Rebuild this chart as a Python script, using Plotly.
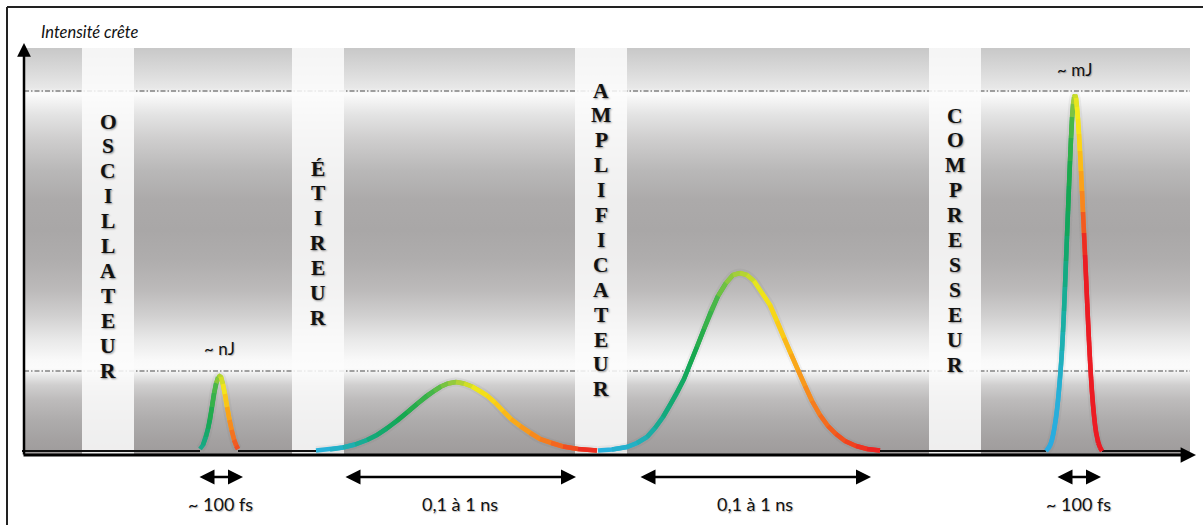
import plotly.graph_objects as go
from plotly.colors import sample_colorscale
import math

# ---------------- data ----------------
stage_names = ["OSCILLATEUR", "ÉTIREUR", "AMPLIFICATEUR", "COMPRESSEUR"]
stage_left = [82, 292, 575, 929]
stage_right = [134, 344, 627, 981]
stage_first_letter_py = [123, 170, 92, 117]

# pulses: x position (px along the time axis) and peak-intensity height (px above baseline)
osc_x = [200, 203, 206, 208, 210, 212, 214, 216, 218, 219.5, 221, 223, 225, 227, 229.5, 231.5, 234, 236, 238]
osc_y = [2, 6, 14, 22, 31, 44, 58, 68, 74, 75, 74, 67, 57, 44, 31, 21, 11, 5, 2]

str_x = [316, 330, 343, 355, 367, 377, 387, 397, 407, 417, 427, 434, 441, 448, 456,
         464, 472, 480, 487, 495, 503, 511, 520, 530, 540, 551, 563, 578, 597]
str_y = [0.5, 1.5, 3.5, 6.5, 11, 16, 22.5, 30, 38.5, 47, 55.5, 60, 64.5, 67.5, 69,
         67.5, 64.5, 60, 55.5, 48.5, 40, 32, 25, 18, 12, 8, 4.5, 2, 0.5]

amp_x = [598, 612, 627, 637, 647, 655, 663, 670, 677, 684, 690, 697, 704, 711, 718, 726, 733, 740,
         747, 754, 762, 770, 777, 784, 791, 798, 805, 812, 820, 828, 836, 845, 856, 867, 880]
amp_y = [0.5, 1.5, 4, 8, 14, 23, 34, 46, 58, 72, 87, 104, 122, 140, 155, 168, 176, 178,
         176, 170, 158, 146, 130, 113, 97, 81, 65, 50, 36, 25, 17, 10, 5, 2, 0.5]

cmp_x = [1046, 1048, 1050, 1051.5, 1053, 1054.5, 1056, 1057, 1058, 1059, 1060, 1061, 1062, 1063,
         1064, 1065, 1066, 1067, 1068, 1069, 1070, 1071, 1072, 1073, 1074, 1075, 1076, 1077,
         1078, 1079, 1080, 1081, 1082, 1083, 1084, 1085, 1086, 1087, 1088, 1089, 1090, 1091,
         1092, 1093, 1094, 1095, 1096, 1098, 1100, 1102]
cmp_y = [0, 2, 5, 9, 15, 23, 33, 41, 50, 61, 73, 86, 100, 119,
         140, 164, 190, 215, 240, 265, 290, 313, 334, 347, 354, 356, 353, 344,
         332, 317, 300, 280, 260, 239, 218, 196, 175, 152, 130, 110, 90, 73,
         58, 46, 35, 26, 18, 8, 3, 0]

energy_labels = ["~ nJ", "~ mJ"]
energy_x = [219, 1074]
energy_py = [348, 69]

duration_labels = ["~ 100 fs", "0,1 à 1 ns", "0,1 à 1 ns", "~ 100 fs"]
duration_start = [198, 344, 639, 1056]
duration_end = [243, 576, 871, 1101]

axis_title = "Intensité crête"

# ---------------- helpers ----------------
BASE_PY = 451  # baseline pixel row


def Y(py):
    return BASE_PY - py


scale_std = [
    [0.00, "#29b3e3"], [0.08, "#22b0c0"], [0.18, "#14a978"], [0.30, "#16a84e"],
    [0.42, "#4bb748"], [0.50, "#a6cf3a"], [0.56, "#eee81a"], [0.64, "#fbd016"],
    [0.74, "#f9a11b"], [0.84, "#f5791f"], [0.94, "#f0401f"], [1.00, "#ec1c24"],
]
scale_osc = [
    [0.00, "#1aa98f"], [0.20, "#17a84f"], [0.42, "#4db748"], [0.52, "#c9dc2a"],
    [0.60, "#f7e51a"], [0.72, "#fbb116"], [0.86, "#f6821f"], [1.00, "#ef4a23"],
]
scale_cmp = [
    [0.00, "#29abe2"], [0.08, "#27b0d8"], [0.16, "#1eb1b0"], [0.24, "#14ab88"],
    [0.31, "#11a65e"], [0.38, "#15a84e"], [0.45, "#3db549"], [0.485, "#8cc63f"],
    [0.51, "#e6e61e"], [0.53, "#f8ec19"], [0.57, "#fcd116"], [0.61, "#fbab18"],
    [0.65, "#f7861f"], [0.69, "#f04a22"], [0.72, "#ec1c24"], [1.00, "#ec1c24"],
]

pulses = [(osc_x, osc_y, scale_osc), (str_x, str_y, scale_std),
          (amp_x, amp_y, scale_std), (cmp_x, cmp_y, scale_cmp)]

fig = go.Figure()

# background gradient panel
bg_top, bg_bot = 48, 455
stops_py = [455, 440, 420, 400, 385, 376, 372, 368, 360, 340, 315, 290, 260, 230, 200,
            170, 140, 115, 100, 93, 91, 88, 70, 48]
stops_col = ["#9e9b9b", "#a4a1a1", "#aeacac", "#bdbbbb", "#d0cfcf", "#e7e7e7", "#f3f3f3",
             "#fbfbfb", "#f9f9f9", "#e9e9e9", "#d0cfcf", "#bcbaba", "#afadad", "#a9a7a7",
             "#acaaaa", "#b9b8b8", "#cecdcd", "#e3e3e3", "#f4f4f4", "#fdfdfd", "#f0f0f0",
             "#e8e8e8", "#d9d9d9", "#c8c8c8"]
bg_scale = [[(bg_bot - p) / (bg_bot - bg_top), c] for p, c in zip(stops_py, stops_col)]
fig.add_trace(go.Scatter(
    x=[24, 1190, 1190, 24, 24], y=[Y(bg_bot)] * 2 + [Y(bg_top)] * 2 + [Y(bg_bot)],
    mode="lines", fill="toself", line=dict(width=0),
    fillgradient=dict(type="vertical", colorscale=bg_scale, start=Y(bg_bot), stop=Y(bg_top)),
    hoverinfo="skip"))

# dashed level lines
for lvl_py in [91, 371]:
    fig.add_trace(go.Scatter(x=[24, 1190], y=[Y(lvl_py)] * 2, mode="lines",
                             line=dict(color="#4a4a4a", width=1, dash="5px,2px,1.5px,2px"),
                             hoverinfo="skip"))

# white stage columns
for l, r in zip(stage_left, stage_right):
    fig.add_trace(go.Scatter(x=[l, r, r, l, l], y=[Y(bg_bot)] * 2 + [Y(bg_top)] * 2 + [Y(bg_bot)],
                             mode="lines", fill="toself", line=dict(width=0),
                             fillcolor="rgba(252,252,252,0.86)", hoverinfo="skip"))

# baseline segments between pulses
seg_pts = [22]
for px, py_, _ in pulses:
    seg_pts += [px[0], px[-1]]
seg_pts += [1186]
for a, b in zip(seg_pts[0::2], seg_pts[1::2]):
    if b - a > 2:
        fig.add_trace(go.Scatter(x=[a, b], y=[0, 0], mode="lines",
                                 line=dict(color="#111", width=2.2), hoverinfo="skip"))

# soft glow under pulses
for px, py_, sc in pulses:
    fig.add_trace(go.Scatter(x=px, y=py_, mode="lines",
                             line=dict(color="rgba(90,90,90,0.07)", width=9, shape="spline"),
                             hoverinfo="skip"))
# pulses with colour gradient along the curve
for px, py_, sc in pulses:
    d = [0.0]
    for i in range(1, len(px)):
        d.append(d[-1] + math.hypot(px[i] - px[i - 1], py_[i] - py_[i - 1]))
    tot = d[-1]
    n = len(px)
    for i in range(n - 1):
        tm = (d[i] + d[i + 1]) / 2 / tot
        col = sample_colorscale(sc, [tm])[0]
        j = min(i + 3, n)
        fig.add_trace(go.Scatter(x=px[i:j], y=py_[i:j], mode="lines",
                                 line=dict(color=col, width=4.5), hoverinfo="skip"))

ann = []
# axes arrows
ann.append(dict(x=24, y=Y(43), ax=24, ay=Y(456), xref="x", yref="y", axref="x", ayref="y",
                showarrow=True, arrowhead=2, arrowsize=1.1, arrowwidth=2.5, arrowcolor="black", text=""))
ann.append(dict(x=1196, y=Y(455), ax=22, ay=Y(455), xref="x", yref="y", axref="x", ayref="y",
                showarrow=True, arrowhead=2, arrowsize=1.1, arrowwidth=2.8, arrowcolor="black", text=""))

# duration double arrows + labels
for lab, a, b in zip(duration_labels, duration_start, duration_end):
    ann.append(dict(x=b, y=Y(477), ax=a, ay=Y(477), xref="x", yref="y", axref="x", ayref="y",
                    showarrow=True, arrowhead=2, startarrowhead=2, arrowside="end+start",
                    arrowsize=1.2, arrowwidth=2.5, arrowcolor="black", text=""))
    ann.append(dict(x=(a + b) / 2, y=Y(504), xref="x", yref="y", text=lab, showarrow=False,
                    font=dict(family="Lato, Liberation Sans", size=18, color="#111",
                              shadow="1px 1px 1px rgba(0,0,0,0.25)")))

# energy labels
for lab, ex, ey in zip(energy_labels, energy_x, energy_py):
    ann.append(dict(x=ex, y=Y(ey), xref="x", yref="y", text=lab, showarrow=False,
                    font=dict(family="Lato, Liberation Sans", size=17, color="#111",
                              shadow="1px 1px 1px rgba(0,0,0,0.25)")))

# axis title
ann.append(dict(x=39, y=Y(32), xref="x", yref="y", xanchor="left", text=axis_title, showarrow=False,
                font=dict(family="Lato, Liberation Sans", size=16.5, color="#111", style="italic")))

# vertical stage labels, one letter per line
for name, l, r, p0 in zip(stage_names, stage_left, stage_right, stage_first_letter_py):
    cx = (l + r) / 2
    for k, ch in enumerate(name):
        ann.append(dict(x=cx, y=Y(p0 + k * 24.9) + 1.5, xref="x", yref="y", text=ch, showarrow=False,
                        font=dict(family="Liberation Serif", size=21.5, color="#111", weight=700,
                                  shadow="1px 1px 2px rgba(0,0,0,0.45)")))

fig.update_layout(
    width=1203, height=525, margin=dict(l=0, r=0, t=0, b=0),
    paper_bgcolor="white", plot_bgcolor="white", showlegend=False,
    xaxis=dict(visible=False, range=[0, 1203], fixedrange=True),
    yaxis=dict(visible=False, range=[Y(525), Y(0)], fixedrange=True),
    annotations=ann,
    shapes=[
        dict(type="line", xref="x", yref="y", x0=7, x1=1203, y0=Y(7), y1=Y(7),
             line=dict(color="#222", width=2)),
        dict(type="line", xref="x", yref="y", x0=7, x1=7, y0=Y(7), y1=Y(525),
             line=dict(color="#222", width=2)),
    ],
)

fig.write_html("out.html", config={"displayModeBar": False},
               post_script="document.body.style.margin='0';document.body.style.overflow='hidden';")
